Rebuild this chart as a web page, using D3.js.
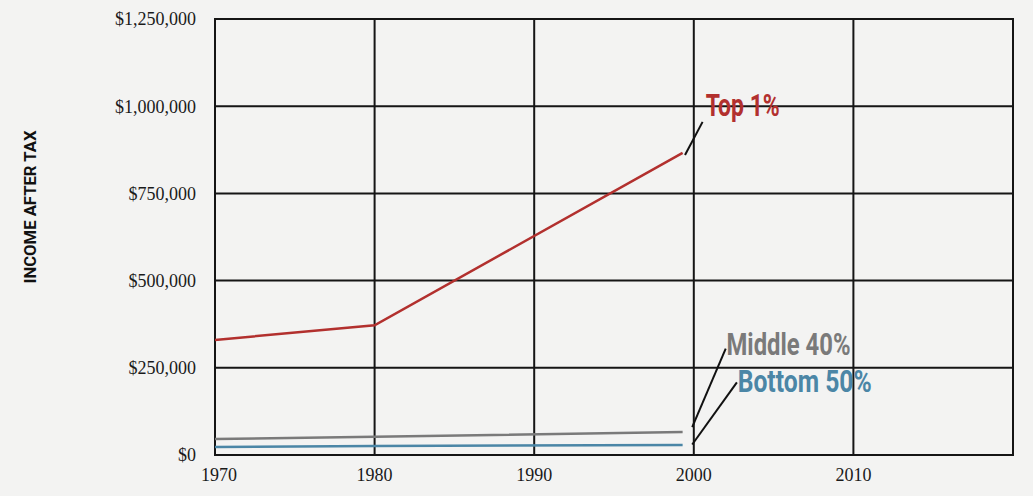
<!DOCTYPE html>
<html>
<head>
<meta charset="utf-8">
<script src="https://cdn.jsdelivr.net/npm/d3@7"></script>
<style>
  html, body { margin: 0; padding: 0; background: #f3f3f2; }
  svg { display: block; }
  .tick-label { font-family: "Liberation Serif", "DejaVu Serif", serif; font-size: 18px; fill: #1a1a1a; }
  .series-label { font-family: Roboto, "Liberation Sans", sans-serif; font-weight: bold; font-size: 31px; }
  .axis-title { font-family: Roboto, "Liberation Sans", sans-serif; font-weight: bold; font-size: 17px; fill: #111; }
</style>
</head>
<body>
<script>
// values
const years = [1970, 1980, 1999.3];
const top1 = [330000, 372000, 866000];
const middle40 = [46000, 52000, 66000];
const bottom50 = [23000, 26000, 29000];

const xTicks = [1970, 1980, 1990, 2000, 2010, 2020];
const xTickLabels = ['1970', '1980', '1990', '2000', '2010', ''];
const yTicks = [0, 250000, 500000, 750000, 1000000, 1250000];
const yTickLabels = ['$0', '$250,000', '$500,000', '$750,000', '$1,000,000', '$1,250,000'];

const seriesNames = ['Top 1%', 'Middle 40%', 'Bottom 50%'];
const seriesColors = ['#b2302e', '#7a7a7a', '#4b86a6'];

const width = 1033, height = 496;
const margins = { top: 19, left: 215, right: 20, bottom: 41 };

const svg = d3.select('body').append('svg')
    .attr('width', width)
    .attr('height', height);

const x = d3.scaleLinear()
    .domain([1970, 2020])
    .range([margins.left, width - margins.right]);

const y = d3.scaleLinear()
    .domain([0, 1250000])
    .range([height - margins.bottom, margins.top]);

// grid
const grid = svg.append('g').attr('class', 'grid');
grid.selectAll('line.v')
    .data(xTicks)
    .enter().append('line')
    .attr('class', 'v')
    .attr('x1', d => x(d)).attr('x2', d => x(d))
    .attr('y1', y(1250000) - 1).attr('y2', y(0) + 1)
    .attr('stroke', '#151515')
    .attr('stroke-width', 2);
grid.selectAll('line.h')
    .data(yTicks)
    .enter().append('line')
    .attr('class', 'h')
    .attr('x1', x(1970) - 1).attr('x2', x(2020) + 1)
    .attr('y1', d => y(d)).attr('y2', d => y(d))
    .attr('stroke', '#151515')
    .attr('stroke-width', 2);

// tick labels
svg.selectAll('text.ylab')
    .data(yTicks)
    .enter().append('text')
    .attr('class', 'tick-label ylab')
    .attr('x', margins.left - 19)
    .attr('y', d => y(d))
    .attr('dy', '0.35em')
    .attr('text-anchor', 'end')
    .text((d, i) => yTickLabels[i]);

svg.selectAll('text.xlab')
    .data(xTicks)
    .enter().append('text')
    .attr('class', 'tick-label xlab')
    .attr('x', (d, i) => x(d) + (i === 0 ? 4 : 0))
    .attr('y', y(0) + 26)
    .attr('text-anchor', 'middle')
    .text((d, i) => xTickLabels[i]);

svg.append('text')
    .attr('class', 'axis-title')
    .attr('transform', 'translate(36,' + ((y(0) + y(1250000)) / 2 - 30) + ') rotate(-90)')
    .attr('text-anchor', 'middle')
    .attr('textLength', 153)
    .attr('lengthAdjust', 'spacingAndGlyphs')
    .text('INCOME AFTER TAX');

// lines
const line = d3.line()
    .x((d, i) => x(years[i]))
    .y(d => y(d));

const series = [top1, middle40, bottom50];
svg.selectAll('path.series')
    .data(series)
    .enter().append('path')
    .attr('class', 'series')
    .attr('d', d => line(d))
    .attr('fill', 'none')
    .attr('stroke', (d, i) => seriesColors[i])
    .attr('stroke-width', 2.5);

// leader lines and labels, placed in data space
const leaders = [
    { from: [1999.45, 860000], to: [2000.55, 955000], label: [2000.75, 1003000], len: 74 },
    { from: [1999.9, 80000], to: [2002.0, 305000], label: [2002.05, 317000], len: 124 },
    { from: [1999.9, 30000], to: [2002.7, 208000], label: [2002.75, 211000], len: 134 }
];

svg.selectAll('line.leader')
    .data(leaders)
    .enter().append('line')
    .attr('class', 'leader')
    .attr('x1', d => x(d.from[0])).attr('y1', d => y(d.from[1]))
    .attr('x2', d => x(d.to[0])).attr('y2', d => y(d.to[1]))
    .attr('stroke', '#111')
    .attr('stroke-width', 2);

svg.selectAll('text.series-label')
    .data(leaders)
    .enter().append('text')
    .attr('class', 'series-label')
    .attr('x', d => x(d.label[0]))
    .attr('y', d => y(d.label[1]))
    .attr('dy', '0.35em')
    .attr('textLength', d => d.len)
    .attr('lengthAdjust', 'spacingAndGlyphs')
    .attr('fill', (d, i) => seriesColors[i])
    .text((d, i) => seriesNames[i]);
</script>
</body>
</html>
